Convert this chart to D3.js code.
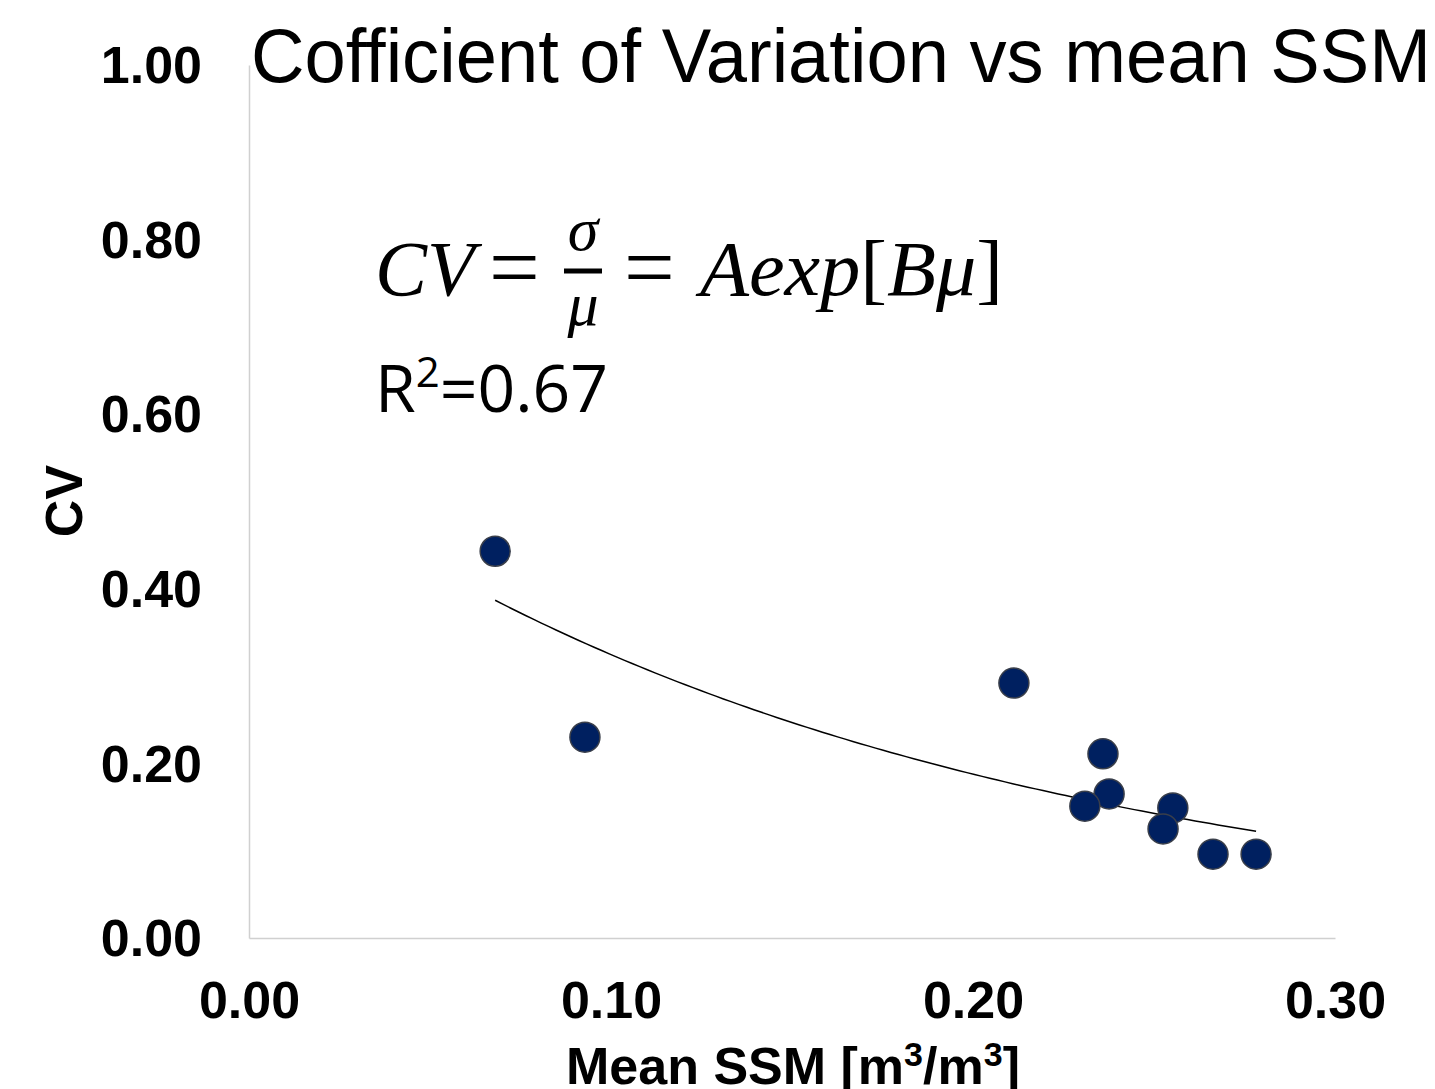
<!DOCTYPE html>
<html>
<head>
<meta charset="utf-8">
<script src="https://cdn.jsdelivr.net/npm/d3@7"></script>
<style>
  body { margin: 0; background: #fff; }
  svg text { fill: #000; }
</style>
</head>
<body>
<div id="chart"></div>
<script>
// mean SSM [m3/m3] and coefficient of variation per site
let meanSSM = [0.068, 0.0928, 0.2113, 0.2359, 0.2376, 0.2309, 0.2552, 0.2525, 0.2663, 0.2782];
let cvValues = [0.443, 0.230, 0.292, 0.211, 0.165, 0.151, 0.149, 0.125, 0.096, 0.096];

let xTicks = [0, 0.1, 0.2, 0.3];
let yTicks = [0, 0.2, 0.4, 0.6, 0.8, 1.0];

let titleText = "Cofficient of Variation vs mean SSM";

let width = 1435, height = 1089;
let margin = {top: 65, right: 100, bottom: 151, left: 249};

let svg = d3.select("#chart").append("svg")
    .attr("width", width)
    .attr("height", height);

let x = d3.scaleLinear()
    .domain([0, 0.3])
    .range([margin.left, width - margin.right]);

let y = d3.scaleLinear()
    .domain([0, 1])
    .range([height - margin.bottom, margin.top]);

// axis lines only, no tick marks
let xAxis = svg.append("g")
    .attr("transform", `translate(0,${y(0)})`)
    .call(d3.axisBottom(x).tickValues(xTicks).tickSize(0).tickFormat(d3.format(".2f")));

let yAxis = svg.append("g")
    .attr("transform", `translate(${x(0)},0)`)
    .call(d3.axisLeft(y).tickValues(yTicks).tickSize(0).tickFormat(d3.format(".2f")));

[xAxis, yAxis].forEach(g => {
    g.select(".domain").attr("stroke", "#d0d0d0").attr("stroke-width", 1.5);
    g.selectAll("text")
        .style("font-family", "'Liberation Sans', Arial, sans-serif")
        .style("font-weight", "bold")
        .style("font-size", "52px");
});

xAxis.selectAll("text").attr("y", 0).attr("dy", "80px");
yAxis.selectAll("text").attr("x", -47).attr("dy", "0.34em");

// exponential trendline fitted on ln(cv), like a spreadsheet trendline
let lnY = cvValues.map(v => Math.log(v));
let mx = d3.mean(meanSSM), my = d3.mean(lnY);
let sxy = d3.sum(meanSSM, (v, i) => (v - mx) * (lnY[i] - my));
let sxx = d3.sum(meanSSM, v => (v - mx) * (v - mx));
let B = sxy / sxx;
let A = Math.exp(my - B * mx);

let xs = d3.range(0, 101).map(i => d3.min(meanSSM) + i / 100 * (d3.max(meanSSM) - d3.min(meanSSM)));

svg.append("path")
    .datum(xs)
    .attr("fill", "none")
    .attr("stroke", "#000")
    .attr("stroke-width", 1.5)
    .attr("d", d3.line().x(d => x(d)).y(d => y(A * Math.exp(B * d))));

// points
svg.append("g")
    .selectAll("circle")
    .data(meanSSM)
    .enter()
    .append("circle")
    .attr("cx", d => x(d))
    .attr("cy", (d, i) => y(cvValues[i]))
    .attr("r", 15)
    .attr("fill", "#002060")
    .attr("stroke", "#3a3f4a")
    .attr("stroke-width", 1.5);

// title
svg.append("text")
    .attr("x", 251)
    .attr("y", 82)
    .attr("textLength", 1180)
    .attr("lengthAdjust", "spacingAndGlyphs")
    .style("font-family", "'Liberation Sans', Arial, sans-serif")
    .style("font-size", "76px")
    .text(titleText);

// axis titles
svg.append("text")
    .attr("x", 793)
    .attr("y", 1084)
    .attr("text-anchor", "middle")
    .style("font-family", "'Liberation Sans', Arial, sans-serif")
    .style("font-weight", "bold")
    .style("font-size", "52px")
    .html('Mean SSM [m<tspan dy="-18" font-size="34px">3</tspan><tspan dy="18">/m</tspan><tspan dy="-18" font-size="34px">3</tspan><tspan dy="18">]</tspan>');

svg.append("text")
    .attr("transform", "translate(82,501) rotate(-90)")
    .attr("text-anchor", "middle")
    .style("font-family", "'Liberation Sans', Arial, sans-serif")
    .style("font-weight", "bold")
    .style("font-size", "52px")
    .text("CV");

// equation
let eq = svg.append("g")
    .style("font-family", "'Liberation Serif', 'DejaVu Serif', serif")
    .style("font-style", "italic")
    .style("font-size", "78px");

eq.append("text").attr("x", 375).attr("y", 295).text("CV");
eq.append("text").attr("x", 489).attr("y", 298).style("font-style", "normal").style("font-size", "90px").text("=");
eq.append("text").attr("x", 583).attr("y", 250).attr("text-anchor", "middle").style("font-size", "62px").text("σ");
eq.append("line").attr("x1", 564).attr("x2", 602).attr("y1", 271).attr("y2", 271)
    .attr("stroke", "#000").attr("stroke-width", 5);
eq.append("text").attr("x", 583).attr("y", 325).attr("text-anchor", "middle").style("font-size", "62px").text("μ");
eq.append("text").attr("x", 624).attr("y", 298).style("font-style", "normal").style("font-size", "90px").text("=");
eq.append("text").attr("x", 700).attr("y", 295)
    .attr("textLength", 303)
    .attr("lengthAdjust", "spacingAndGlyphs")
    .html('Aexp<tspan font-style="normal">[</tspan>Bμ<tspan font-style="normal">]</tspan>');

let r2 = Math.pow(sxy, 2) / (sxx * d3.sum(lnY, v => (v - my) * (v - my)));

svg.append("text")
    .attr("x", 375)
    .attr("y", 412)
    .style("font-family", "'Open Sans', 'Noto Sans', sans-serif")
    .style("font-size", "66px")
    .html(`R<tspan dy="-25" font-size="42px">2</tspan><tspan dy="25">=${d3.format(".2f")(r2)}</tspan>`);
</script>
</body>
</html>
